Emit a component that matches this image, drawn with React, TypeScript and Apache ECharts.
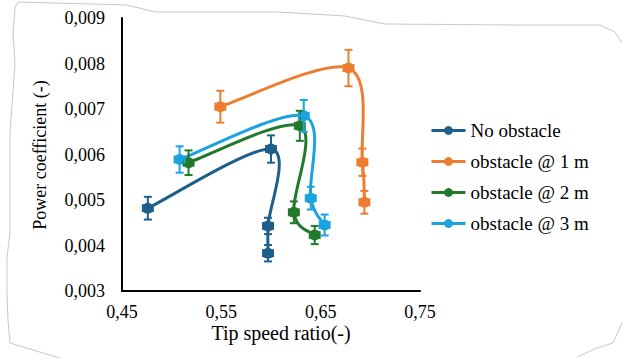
import React, { useEffect, useRef } from "react";
import * as echarts from "echarts";

const seriesNames = ["No obstacle", "obstacle @ 1 m", "obstacle @ 2 m", "obstacle @ 3 m"];
const colors = ["#1F5F8B", "#ED7D31", "#217A2B", "#1BA3DF"];

const noObsX = [0.476, 0.6, 0.597, 0.597];
const noObsY = [0.00482, 0.00612, 0.00443, 0.00383];
const ob1X = [0.549, 0.678, 0.692, 0.694];
const ob1Y = [0.00705, 0.0079, 0.00583, 0.00495];
const ob2X = [0.517, 0.629, 0.623, 0.644];
const ob2Y = [0.00582, 0.00663, 0.00473, 0.00423];
const ob3X = [0.508, 0.633, 0.64, 0.654];
const ob3Y = [0.00589, 0.00685, 0.00504, 0.00445];

const noObsYErr = [0.00025, 0.0003, 0.00018, 0.00018];
const ob1YErr = [0.00035, 0.0004, 0.0003, 0.00025];
const ob2YErr = [0.00027, 0.00033, 0.00024, 0.0002];
const ob3YErr = [0.00029, 0.00035, 0.00025, 0.00023];
const xErr = [0.005, 0.005, 0.005, 0.005];

const xTicks = { min: 0.45, max: 0.75, interval: 0.1 };
const yTicks = { min: 0.003, max: 0.009, interval: 0.001 };

const allX = [noObsX, ob1X, ob2X, ob3X];
const allY = [noObsY, ob1Y, ob2Y, ob3Y];
const allYErr = [noObsYErr, ob1YErr, ob2YErr, ob3YErr];

const FONT = "Liberation Serif";

export default function App() {
  const ref = useRef<HTMLDivElement>(null);
  useEffect(() => {
    if (!ref.current) return;
    const chart = echarts.init(ref.current, null, { renderer: "svg" });

    // smooth curve through the points (Catmull-Rom style, like a spreadsheet's smoothed scatter)
    const curveSeries = seriesNames.map((name, i) => ({
      name: name + " curve",
      type: "custom",
      z: 2,
      silent: true,
      encode: { x: 0, y: 1 },
      data: allX[i].map((x, j) => [x, allY[i][j]]),
      renderItem: (params: any, api: any) => {
        if (params.dataIndex !== 0) return null;
        const pts = allX[i].map((x, j) => api.coord([x, allY[i][j]]));
        const n = pts.length;
        const children: any[] = [];
        for (let k = 0; k < n - 1; k++) {
          const p0 = pts[k - 1] || pts[k];
          const p1 = pts[k];
          const p2 = pts[k + 1];
          const p3 = pts[k + 2] || pts[k + 1];
          const t = 1 / 6;
          children.push({
            type: "bezierCurve",
            shape: {
              x1: p1[0],
              y1: p1[1],
              cpx1: p1[0] + (p2[0] - p0[0]) * t,
              cpy1: p1[1] + (p2[1] - p0[1]) * t,
              cpx2: p2[0] - (p3[0] - p1[0]) * t,
              cpy2: p2[1] - (p3[1] - p1[1]) * t,
              x2: p2[0],
              y2: p2[1],
            },
            style: { stroke: colors[i], lineWidth: 3, fill: "none" },
          });
        }
        return { type: "group", children };
      },
    }));

    const markerSeries = seriesNames.map((name, i) => ({
      name,
      type: "line",
      symbol: "circle",
      symbolSize: 11,
      z: 3,
      itemStyle: { color: colors[i] },
      lineStyle: { color: colors[i], width: 3, opacity: 0 },
      data: allX[i].map((x, j) => [x, allY[i][j]]),
    }));

    const errSeries = seriesNames.map((name, i) => ({
      name: name + " err",
      type: "custom",
      z: 4,
      silent: true,
      encode: { x: 0, y: 1 },
      data: allX[i].map((x, j) => [x, allY[i][j], xErr[j], allYErr[i][j]]),
      renderItem: (params: any, api: any) => {
        const x = api.value(0);
        const y = api.value(1);
        const xe = api.value(2);
        const ye = api.value(3);
        const c = api.coord([x, y]);
        const top = api.coord([x, y + ye]);
        const bot = api.coord([x, y - ye]);
        const l = api.coord([x - xe, y]);
        const r = api.coord([x + xe, y]);
        const cap = 4;
        const style = { stroke: colors[i], lineWidth: 2, fill: "none" };
        return {
          type: "group",
          children: [
            { type: "line", shape: { x1: c[0], y1: top[1], x2: c[0], y2: bot[1] }, style },
            { type: "line", shape: { x1: c[0] - cap, y1: top[1], x2: c[0] + cap, y2: top[1] }, style },
            { type: "line", shape: { x1: c[0] - cap, y1: bot[1], x2: c[0] + cap, y2: bot[1] }, style },
            { type: "line", shape: { x1: l[0], y1: c[1], x2: r[0], y2: c[1] }, style },
            { type: "line", shape: { x1: l[0], y1: c[1] - cap, x2: l[0], y2: c[1] + cap }, style },
            { type: "line", shape: { x1: r[0], y1: c[1] - cap, x2: r[0], y2: c[1] + cap }, style },
          ],
        };
      },
    }));

    chart.setOption({
      animation: false,
      backgroundColor: "#ffffff",
      textStyle: { fontFamily: FONT },
      grid: { left: 122, right: 202, top: 18, bottom: 67, containLabel: false },
      xAxis: {
        type: "value",
        min: xTicks.min,
        max: xTicks.max,
        interval: xTicks.interval,
        axisLine: { show: true, lineStyle: { color: "#000", width: 2 } },
        axisTick: { show: false },
        splitLine: { show: false },
        axisLabel: {
          color: "#000",
          fontSize: 18,
          fontFamily: FONT,
          margin: 12,
          formatter: (v: number) => v.toFixed(2).replace(".", ","),
        },
      },
      yAxis: {
        type: "value",
        min: yTicks.min,
        max: yTicks.max,
        interval: yTicks.interval,
        axisLine: { show: true, lineStyle: { color: "#000", width: 2 } },
        axisTick: { show: false },
        splitLine: { show: false },
        axisLabel: {
          color: "#000",
          fontSize: 18,
          fontFamily: FONT,
          margin: 17,
          formatter: (v: number) => v.toFixed(3).replace(".", ","),
        },
      },
      legend: {
        data: seriesNames.map((name, i) => ({
          name,
          lineStyle: { color: colors[i], width: 3, opacity: 1 },
          itemStyle: { color: colors[i] },
        })),
        orient: "vertical",
        left: 430,
        top: 121,
        padding: 0,
        itemWidth: 34,
        itemHeight: 11,
        itemGap: 12,
        textStyle: { fontSize: 19, fontFamily: FONT, color: "#000" },
      },
      graphic: [
        {
          type: "polyline",
          silent: true,
          shape: {
            points: [
              [60, 358], [33, 350], [10, 343], [8, 320], [7, 293], [7, 257], [10, 233], [10, 133],
              [15, 63], [13, 33], [15, 7], [18, 2], [127, 5], [155, 12], [278, 12], [345, 16],
              [385, 24], [516, 25], [600, 25], [615, 32], [622, 43],
            ],
          },
          style: { stroke: "#c8c8c8", lineWidth: 1, fill: "none" },
        },
        {
          type: "polyline",
          silent: true,
          shape: { points: [[622, 323], [613, 343], [597, 348], [577, 357]] },
          style: { stroke: "#c8c8c8", lineWidth: 1, fill: "none" },
        },
        {
          type: "text",
          x: 281,
          y: 333,
          style: {
            text: "Tip speed ratio(-)",
            fontSize: 20,
            fontFamily: FONT,
            fill: "#000",
            align: "center",
            verticalAlign: "middle",
          },
        },
        {
          type: "text",
          x: 40,
          y: 155,
          rotation: Math.PI / 2,
          style: {
            text: "Power coefficient (-)",
            fontSize: 18,
            fontFamily: FONT,
            fill: "#000",
            align: "center",
            verticalAlign: "middle",
          },
        },
      ],
      series: [...curveSeries, ...markerSeries, ...errSeries],
    });

    return () => chart.dispose();
  }, []);

  return <div ref={ref} style={{ width: 622, height: 358, position: "absolute", left: 0, top: 0 }} />;
}
